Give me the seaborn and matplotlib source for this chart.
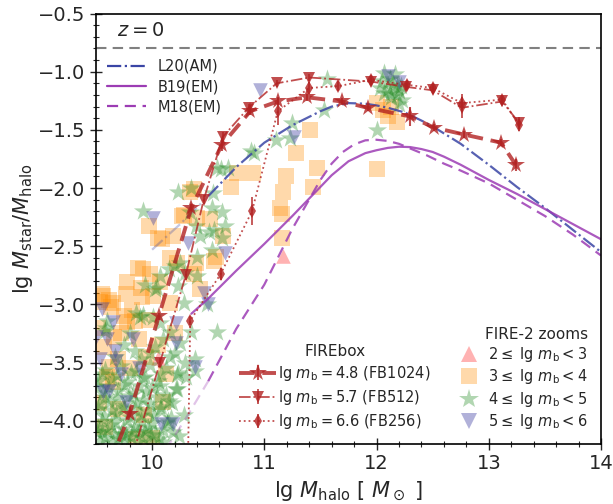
import numpy as np
import pandas as pd
import matplotlib
matplotlib.use("Agg")
import matplotlib.pyplot as plt
import seaborn as sns
from matplotlib.lines import Line2D

# ---------------- data ----------------
# empirical models
l20_x = [10.0, 10.25, 10.5, 10.75, 11.0, 11.25, 11.5, 11.6, 11.75, 11.9, 12.0, 12.1, 12.25, 12.4, 12.5, 12.75, 13.0, 13.25, 13.5, 13.75, 14.0]
l20_y = [-2.53, -2.31, -2.07, -1.82, -1.61, -1.46, -1.34, -1.30, -1.27, -1.275, -1.29, -1.31, -1.35, -1.42, -1.47, -1.62, -1.80, -1.99, -2.17, -2.36, -2.55]
b19_x = [10.35, 10.5, 10.75, 11.0, 11.25, 11.5, 11.6, 11.75, 11.9, 12.0, 12.1, 12.2, 12.3, 12.4, 12.5, 12.6, 12.75, 13.0, 13.25, 13.5, 13.75, 14.0]
b19_y = [-3.08, -2.95, -2.71, -2.48, -2.24, -1.99, -1.89, -1.77, -1.70, -1.675, -1.655, -1.645, -1.648, -1.665, -1.69, -1.73, -1.80, -1.93, -2.05, -2.18, -2.31, -2.44]
m18_x = [10.12, 10.3, 10.5, 10.75, 11.0, 11.25, 11.5, 11.6, 11.7, 11.8, 11.9, 12.0, 12.1, 12.2, 12.3, 12.45, 12.6, 12.75, 13.0, 13.25, 13.5, 13.75, 14.0]
m18_y = [-4.25, -3.98, -3.66, -3.21, -2.83, -2.35, -1.93, -1.79, -1.69, -1.625, -1.59, -1.585, -1.595, -1.62, -1.66, -1.72, -1.79, -1.85, -1.96, -2.10, -2.24, -2.40, -2.58]
valid_min = 10.5

# FIREbox
fb1024_x = [9.55, 9.80, 10.06, 10.35, 10.62, 10.875, 11.12, 11.38, 11.69, 11.92, 12.30, 12.51, 12.78, 13.11, 13.24]
fb1024_y = [-4.55, -3.94, -3.10, -2.17, -1.63, -1.34, -1.256, -1.22, -1.256, -1.31, -1.385, -1.48, -1.54, -1.61, -1.80]
fb1024_e = [0.0, 0.03, 0.03, 0.03, 0.05, 0.03, 0.03, 0.03, 0.03, 0.03, 0.08, 0.03, 0.03, 0.03, 0.05]
fb512_x = [9.78, 10.07, 10.30, 10.46, 10.63, 10.86, 11.11, 11.40, 11.95, 12.26, 12.50, 12.76, 13.12, 13.27]
fb512_y = [-4.45, -3.50, -2.75, -2.10, -1.56, -1.31, -1.10, -1.05, -1.085, -1.13, -1.16, -1.31, -1.256, -1.44]
fb512_e = [0.0, 0.04, 0.04, 0.04, 0.04, 0.03, 0.03, 0.03, 0.03, 0.03, 0.03, 0.09, 0.03, 0.05]
fb256_x = [10.30, 10.34, 10.61, 10.89, 11.12, 11.40, 11.66, 11.95, 12.27, 12.50, 12.76, 13.12, 13.27]
fb256_y = [-5.5, -3.14, -2.74, -2.20, -1.34, -1.14, -1.124, -1.07, -1.113, -1.14, -1.27, -1.24, -1.456]
fb256_e = [0.0, 0.04, 0.05, 0.12, 0.12, 0.05, 0.04, 0.04, 0.04, 0.04, 0.08, 0.04, 0.05]

# FIRE-2 zooms
pink_x = [11.17, 10.05]
pink_y = [-2.586, -3.46]

sq_x = [11.41, 11.28, 11.47, 11.19, 11.43, 12.00, 12.00, 12.06, 12.10, 12.18, 12.13, 10.90, 11.17, 11.14, 11.16, 11.16,
        10.70, 10.37, 10.76, 10.34, 10.28, 10.40, 10.52, 9.97, 10.09, 10.19, 10.63, 10.16, 10.22, 10.55, 9.92, 9.98,
        10.07, 9.77, 9.91, 10.01, 9.62, 9.65, 9.55, 9.85, 9.97, 10.16, 10.37, 10.43, 10.27, 10.05, 9.87, 9.78, 9.90,
        10.57, 10.39, 9.54, 9.56, 9.63, 9.57, 9.70, 9.62, 9.65, 9.72, 9.78, 9.60, 9.53, 9.70, 10.10, 9.86, 10.00,
        9.95, 10.05, 9.82, 9.75, 9.52, 9.66, 9.88, 10.12, 9.93, 10.20, 9.58, 9.80]
sq_y = [-1.50, -1.70, -1.83, -1.90, -1.99, -1.84, -1.27, -1.33, -1.38, -1.43, -1.30, -1.87, -2.03, -2.17, -2.22, -2.43,
        -1.99, -2.01, -1.87, -2.03, -2.23, -2.26, -2.27, -2.33, -2.44, -2.41, -2.41, -2.60, -2.64, -2.63, -2.70, -2.74,
        -2.81, -2.91, -2.94, -2.93, -2.96, -2.99, -2.91, -3.14, -3.13, -2.99, -2.74, -2.87, -2.24, -2.43, -2.69, -2.81, -2.86,
        -2.59, -2.64, -2.98, -2.93, -3.02, -3.37, -3.47, -3.54, -3.67, -3.25, -3.15, -3.62, -3.85, -3.90, -3.84, -4.16, -4.15,
        -3.45, -3.35, -3.05, -3.10, -3.20, -3.28, -3.30, -3.60, -3.95, -3.25, -4.05, -3.55]

st_x = [12.07, 12.12, 12.15, 12.18, 12.10, 12.20, 12.07, 12.18, 12.23, 12.13, 12.00, 11.56, 11.53, 11.25, 11.10, 11.23,
        10.905, 10.88, 10.58, 10.68, 10.35, 10.61,
        12.05, 12.16, 12.22, 12.12, 12.03, 12.20,
        9.92, 10.23, 10.34, 10.53, 10.62, 10.65, 10.55, 10.43, 10.62, 10.53, 10.40, 10.25, 10.15, 10.07, 10.29, 10.40,
        9.94, 10.03, 10.28, 10.49, 9.89, 9.60, 10.54, 10.51, 10.39, 10.20, 10.04, 9.86, 9.59, 10.23,
        10.16, 10.25, 10.03, 10.16, 10.29, 10.22, 10.07, 10.22, 10.38, 10.35, 10.58, 10.01, 9.92, 10.07,
        9.58, 9.72, 9.86, 9.98, 9.52, 9.64, 9.78, 9.92, 10.05, 9.56, 9.70, 9.83, 9.95, 10.12,
        9.53, 9.62, 9.74, 9.86, 9.98, 10.08, 9.57, 9.68, 9.80, 9.90, 10.02, 10.17,
        9.52, 9.63, 9.74, 9.85, 9.96, 10.10, 9.58, 9.70, 9.81, 9.92, 10.06, 10.24,
        10.23, 10.21, 10.38, 9.58, 9.75, 9.85, 9.80, 9.67, 9.90, 9.55, 9.66, 9.77, 9.88, 9.99, 10.13,
        9.55, 9.69, 9.81, 9.94, 10.08, 9.51, 9.61, 9.75, 9.88, 10.00,
        9.58, 9.69, 9.79, 9.92, 10.04, 10.15, 9.52, 9.64, 9.75, 9.85, 9.96, 10.07,
        9.55, 9.67, 9.78, 9.90, 10.00, 10.14, 9.51, 9.60, 9.72, 9.83, 9.94, 10.03, 10.19,
        9.54, 9.65, 9.76, 9.87, 9.98, 10.10,
        10.10, 10.20, 10.12, 9.98, 10.30, 10.18, 10.28]
st_y = [-1.01, -1.06, -1.10, -1.13, -1.15, -1.17, -1.18, -1.20, -1.24, -1.22, -1.50, -1.06, -1.33, -1.44, -1.585, -1.57,
        -1.70, -1.68, -1.83, -1.83, -2.00, -1.84,
        -1.08, -1.02, -1.12, -1.19, -1.14, -1.28,
        -2.20, -2.03, -2.21, -2.17, -2.21, -2.33, -2.36, -2.41, -2.43, -2.53, -2.59, -2.64, -2.70, -2.76, -2.73, -2.76,
        -2.83, -2.87, -2.99, -3.00, -3.11, -3.14, -2.04, -2.38, -2.33, -2.67, -2.86, -3.07, -3.20, -2.84,
        -3.24, -3.33, -3.37, -3.45, -3.50, -3.61, -3.70, -3.73, -3.57, -3.24, -3.24, -3.11, -3.09, -3.16,
        -3.56, -3.53, -3.57, -3.52, -3.66, -3.64, -3.67, -3.63, -3.66, -3.76, -3.74, -3.77, -3.75, -3.78,
        -3.86, -3.84, -3.87, -3.85, -3.86, -3.88, -3.96, -3.94, -3.97, -3.95, -3.96, -3.98,
        -4.06, -4.04, -4.07, -4.05, -4.06, -4.08, -4.15, -4.16, -4.14, -4.15, -4.16, -4.13,
        -3.59, -3.73, -3.47, -3.23, -3.35, -3.40, -3.25, -3.45, -3.47, -4.10, -4.11, -4.12, -4.10, -4.12, -4.02,
        -3.60, -3.61, -3.59, -3.62, -3.60, -3.70, -3.71, -3.69, -3.70, -3.72,
        -3.80, -3.81, -3.79, -3.82, -3.80, -3.83, -3.90, -3.91, -3.89, -3.90, -3.92, -3.90,
        -4.00, -4.01, -3.99, -4.00, -4.02, -4.00, -4.10, -4.09, -4.11, -4.10, -4.09, -4.11, -4.10,
        -4.18, -4.19, -4.17, -4.18, -4.19, -4.18,
        -3.30, -3.42, -3.55, -3.42, -3.62, -3.85, -3.95]

tri_x = [10.96, 11.26, 12.20, 12.10, 10.01, 10.32, 10.65, 10.46, 10.50, 9.55, 9.65, 10.21, 9.60, 9.54, 9.68, 9.62,
         9.77, 10.08, 10.19, 10.38, 9.83, 10.21, 9.50, 9.67, 9.56, 9.72, 9.88]
tri_y = [-1.16, -1.56, -1.085, -1.04, -2.26, -2.47, -2.56, -2.90, -3.00, -3.04, -3.15, -3.16, -3.30, -3.47, -3.49, -3.74,
         -3.84, -4.03, -4.03, -3.54, -3.30, -3.33, -3.28, -3.40, -3.75, -3.60, -3.55]

lg_fb = -0.796

# ---------------- plot ----------------
sns.set_style("ticks")
plt.rcParams['font.family'] = ['DejaVu Sans']
plt.rcParams['mathtext.fontset'] = 'dejavusans'

fig = plt.figure(figsize=(6.13, 5.04), dpi=100)
ax = fig.add_axes([0.1566, 0.119, 0.8238, 0.8542])

c_l20 = '#3a45a5'
c_pur = '#9c3cb4'
c_red = '#b22222'

def split(xs, ys, lo):
    xs = np.array(xs); ys = np.array(ys)
    return (xs[xs <= lo], ys[xs <= lo]), (xs[xs >= lo], ys[xs >= lo])

(l20f, l20s) = split(l20_x, l20_y, valid_min)
(m18f, m18s) = split(m18_x, m18_y, valid_min)

sns.lineplot(x=l20f[0], y=l20f[1], ax=ax, color=c_l20, alpha=0.3, lw=1.6, ls='-.', sort=False)
sns.lineplot(x=l20s[0], y=l20s[1], ax=ax, color=c_l20, alpha=0.85, lw=1.6, ls='-.', sort=False)
sns.lineplot(x=b19_x, y=b19_y, ax=ax, color=c_pur, alpha=0.85, lw=1.6, ls='-', sort=False)
ax.plot(m18f[0], m18f[1], color=c_pur, alpha=0.3, lw=1.6, ls=(0, (5, 3)))
ax.plot(m18s[0], m18s[1], color=c_pur, alpha=0.85, lw=1.6, ls=(0, (5, 3)))

ax.axhline(lg_fb, color='gray', lw=1.5, ls=(0, (5, 3)))

# FIRE-2 zooms
sns.scatterplot(x=pink_x, y=pink_y, ax=ax, marker='^', s=110, color='red', alpha=0.3, linewidth=0)
sns.scatterplot(x=sq_x, y=sq_y, ax=ax, marker='s', s=120, color='darkorange', alpha=0.33, linewidth=0)
sns.scatterplot(x=st_x, y=st_y, ax=ax, marker='*', s=210, color='forestgreen', alpha=0.35, linewidth=0)
sns.scatterplot(x=tri_x, y=tri_y, ax=ax, marker='v', s=110, color='#3c3ca0', alpha=0.4, linewidth=0)

# FIREbox
e1 = ax.errorbar(fb1024_x, fb1024_y, yerr=fb1024_e, color=c_red, alpha=0.8, lw=2.8, ls=(0, (4, 2)),
                 marker='*', ms=13, mew=0, elinewidth=1.5, capsize=0)
e2 = ax.errorbar(fb512_x, fb512_y, yerr=fb512_e, color=c_red, alpha=0.8, lw=1.3, ls='-.',
                 marker='v', ms=8, mew=0, elinewidth=1.3, capsize=0)
e3 = ax.errorbar(fb256_x, fb256_y, yerr=fb256_e, color=c_red, alpha=0.8, lw=1.3, ls=':',
                 marker='d', ms=7, mew=0, elinewidth=1.3, capsize=0)

ax.set_xlim(9.5, 14)
ax.set_ylim(-4.2, -0.5)
ax.set_xticks([10, 11, 12, 13, 14])
ax.set_yticks([-4.0, -3.5, -3.0, -2.5, -2.0, -1.5, -1.0, -0.5])
ax.set_yticklabels(['−4.0', '−3.5', '−3.0', '−2.5', '−2.0', '−1.5', '−1.0', '−0.5'])
ax.set_xticks(np.arange(9.6, 14.0, 0.2), minor=True)
ax.set_yticks(np.arange(-4.2, -0.5, 0.1), minor=True)
ax.tick_params(which='major', direction='inout', length=8, width=1, labelsize=14)
ax.tick_params(which='minor', direction='inout', length=5, width=0.8)
for s in ax.spines.values():
    s.set_linewidth(1.2)
    s.set_color('black')

ax.set_xlabel(r'$\mathrm{lg}\ M_{\mathrm{halo}}\ [\ M_\odot\ ]$', fontsize=15, labelpad=4)
ax.set_ylabel(r'$\mathrm{lg}\ M_{\mathrm{star}}/M_{\mathrm{halo}}$', fontsize=15, labelpad=2)

ax.text(9.69, -0.65, r'$z=0$', fontsize=14, va='center', ha='left')

# legends
h_models = [Line2D([], [], color=c_l20, lw=1.6, ls='-.'),
            Line2D([], [], color=c_pur, lw=1.6, ls='-'),
            Line2D([], [], color=c_pur, lw=1.6, ls=(0, (5, 3)))]
leg1 = ax.legend(h_models, ['L20(AM)', 'B19(EM)', 'M18(EM)'], loc='upper left',
                 bbox_to_anchor=(0.01, 0.908), frameon=False, fontsize=10.5,
                 handlelength=2.7, labelspacing=0.35, borderaxespad=0)
ax.add_artist(leg1)

leg2 = ax.legend([e1, e2, e3], [r'lg $m_{\rm b} = 4.8$ (FB1024)', r'lg $m_{\rm b} = 5.7$ (FB512)',
                                r'lg $m_{\rm b} = 6.6$ (FB256)'],
                 loc='lower left', bbox_to_anchor=(0.258, 0.0), frameon=False, fontsize=10.5,
                 title='FIREbox', title_fontsize=11, handlelength=2.5, labelspacing=0.35,
                 handletextpad=0.15)
ax.add_artist(leg2)

h_z = [Line2D([], [], marker='^', ls='', color='red', alpha=0.3, ms=11, mew=0),
       Line2D([], [], marker='s', ls='', color='darkorange', alpha=0.33, ms=11, mew=0),
       Line2D([], [], marker='*', ls='', color='forestgreen', alpha=0.35, ms=15, mew=0),
       Line2D([], [], marker='v', ls='', color='#3c3ca0', alpha=0.4, ms=11, mew=0)]
leg3 = ax.legend(h_z, [r'$2 \leq$ lg $m_{\rm b} < 3$', r'$3 \leq$ lg $m_{\rm b} < 4$',
                       r'$4 \leq$ lg $m_{\rm b} < 5$', r'$5 \leq$ lg $m_{\rm b} < 6$'],
                 loc='lower right', bbox_to_anchor=(1.0, 0.0), frameon=False, fontsize=10.5,
                 title='FIRE-2 zooms', title_fontsize=11, handlelength=1.5, labelspacing=0.22,
                 markerfirst=True, handletextpad=0.6)
leg3._legend_box.align = 'right'

fig.savefig('out.png', dpi=100)
